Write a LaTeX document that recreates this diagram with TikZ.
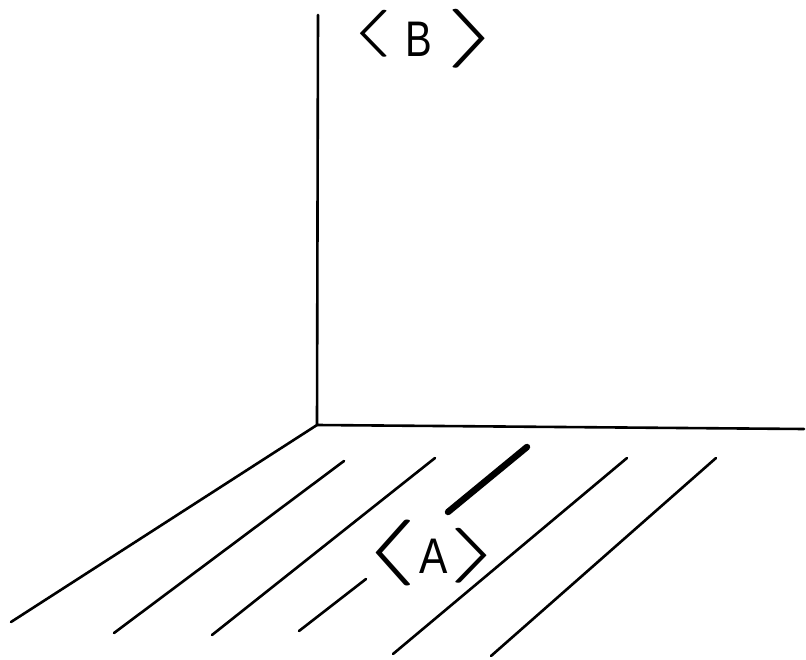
\documentclass[tikz,border=0pt]{standalone}
\usepackage{fontspec}
\usepackage{graphicx}
\setmainfont{Liberation Sans}
\newfontfamily\lmm{Latin Modern Math}
% #1 raise, #2 font size, #3 horizontal stretch, #4 glyph
\newcommand{\bkt}[4]{\raisebox{#1}{\scalebox{#3}[1]{\fontsize{#2}{#2}\selectfont\lmm #4}}}
\begin{document}
\begin{tikzpicture}[x=1pt,y=-1pt,
  stroke/.style={line width=2.6pt,line cap=round,black},
  heavy/.style={line width=6.5pt,line cap=round,black},
  lbl/.style={font=\fontsize{50}{54}\selectfont,inner sep=0pt,anchor=base}]
\useasboundingbox (0,0) rectangle (806,660);
% wall and floor edges
\coordinate (top) at (318,15);
\coordinate (corner) at (317,425);
\coordinate (right) at (804,429);
\coordinate (left) at (11,622);
\draw[stroke] (top) -- (corner) -- (right);
\draw[stroke] (corner) -- (left);
% floor stripes
\coordinate (s2a) at (344,461); \coordinate (s2b) at (114,633);
\coordinate (s3a) at (435,458); \coordinate (s3b) at (212,635);
\coordinate (s4a) at (366,579); \coordinate (s4b) at (299,631);
\coordinate (s5a) at (527,447); \coordinate (s5b) at (448,512);
\coordinate (s6a) at (627,458); \coordinate (s6b) at (393,654);
\coordinate (s7a) at (716,458); \coordinate (s7b) at (491,656);
\draw[stroke] (s2a) -- (s2b);
\draw[stroke] (s3a) -- (s3b);
\draw[stroke] (s4a) -- (s4b);
\draw[heavy] (s5a) -- (s5b);
\draw[stroke] (s6a) -- (s6b);
\draw[stroke] (s7a) -- (s7b);
% labels
\node[lbl] (labB) at (424,57) {\bkt{11.4pt}{47}{2.5}{⟨}\hspace{13pt}\scalebox{0.8}[1]{B}\hspace{13pt}\bkt{3.8pt}{59}{2.4}{⟩}};
\node[lbl] (labA) at (431,573) {\bkt{3.2pt}{66}{2.3}{⟨}\hspace{1pt}\scalebox{0.85}[1]{A}\hspace{1pt}\bkt{4pt}{55}{2.5}{⟩}};
\end{tikzpicture}
\end{document}
